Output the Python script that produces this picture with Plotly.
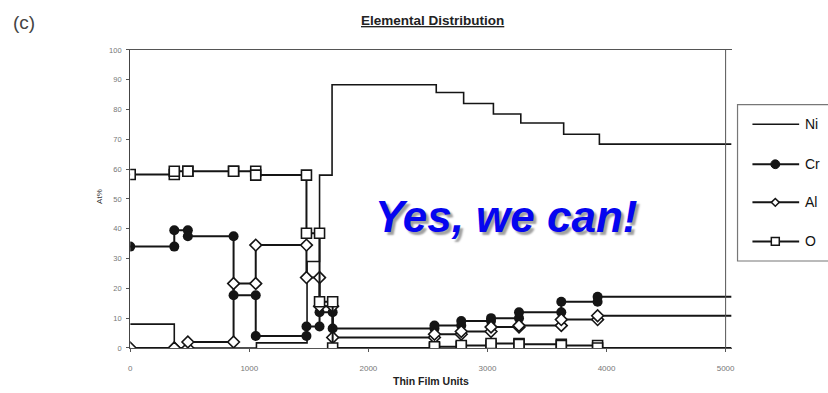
import plotly.graph_objects as go

W, H = 828, 393

# Thin-film depth profile: each layer gives a flat step, boundaries are vertical jumps
ni_x = [0, 370, 370, 1060, 1060, 1485, 1485, 1590, 1590, 1695, 1695, 2570, 2570, 2800,
        2800, 3050, 3050, 3280, 3280, 3640, 3640, 3940, 3940, 5050]
ni_y = [8, 8, 0, 0, 1.7, 1.7, 29, 29, 58, 58, 88.3, 88.3, 85.7, 85.7,
        82, 82, 78.5, 78.5, 75.5, 75.5, 71.7, 71.7, 68.4, 68.4]

layer_x = [0, 370, 370, 484, 484, 868, 868, 1054, 1054, 1480, 1480, 1590, 1590, 1700,
           1700, 2555, 2555, 2780, 2780, 3030, 3030, 3265, 3265, 3620, 3620, 3925, 3925, 5050]

cr_y = [34, 34, 39.5, 39.5, 37.5, 37.5, 17.7, 17.7, 4, 4, 7.2, 7.2, 12, 12,
        6.5, 6.5, 7.5, 7.5, 9, 9, 10, 10, 12, 12, 15.5, 15.5, 17.2, 17.2]
al_y = [0, 0, 0, 0, 2, 2, 21.6, 21.6, 34.5, 34.5, 23.6, 23.6, 14, 14,
        3.5, 3.5, 4.6, 4.6, 5.5, 5.5, 7, 7, 7.5, 7.5, 9.5, 9.5, 10.8, 10.8]
o_y = [58.2, 58.2, 59.3, 59.3, 59.3, 59.3, 59.3, 59.3, 58, 58, 38.5, 38.5, 15.5, 15.5,
       0, 0, 0.4, 0.4, 0.8, 0.8, 1.5, 1.5, 1.2, 1.2, 0.8, 0.8, 0, 0]

x_ticks = [0, 1000, 2000, 3000, 4000, 5000]
y_ticks = list(range(0, 101, 10))

legend_names = ["Ni", "Cr", "Al", "O"]

INK = "#151515"
FONT = "Liberation Sans"

# plot area in pixels
X0, X1 = 129, 734
YT, YB = 47, 352


def px(x):
    return x / W


def py(y):
    return 1 - y / H


def sizes(n, s):
    # no marker on the open-ended last point
    return [s] * (n - 1) + [0]


fig = go.Figure()

fig.add_trace(go.Scatter(x=ni_x, y=ni_y, mode="lines", name="Ni",
                         line=dict(color=INK, width=1.6), showlegend=False))
fig.add_trace(go.Scatter(x=layer_x, y=cr_y, mode="lines+markers", name="Cr",
                         line=dict(color=INK, width=2),
                         marker=dict(symbol="circle", size=sizes(len(cr_y), 10), color=INK,
                                     opacity=1, line=dict(color=INK, width=0)),
                         showlegend=False))
fig.add_trace(go.Scatter(x=layer_x, y=al_y, mode="lines+markers", name="Al",
                         line=dict(color=INK, width=2),
                         marker=dict(symbol="diamond", size=sizes(len(al_y), 9), color="white",
                                     opacity=1, line=dict(color=INK, width=1.6)),
                         showlegend=False))
fig.add_trace(go.Scatter(x=layer_x, y=o_y, mode="lines+markers", name="O",
                         line=dict(color=INK, width=2),
                         marker=dict(symbol="square", size=sizes(len(o_y), 10), color="white",
                                     opacity=1, line=dict(color=INK, width=1.6)),
                         showlegend=False))

shapes = []
# right frame edge at 5000
shapes.append(dict(type="line", xref="x", yref="y", x0=5000, x1=5000, y0=0, y1=100,
                   line=dict(color="#555", width=1)))

# hand-drawn legend box, running off the right edge
shapes.append(dict(type="rect", xref="paper", yref="paper",
                   x0=px(740), x1=px(840), y0=py(263), y1=py(103),
                   line=dict(color="#777", width=1.2), fillcolor="white"))
leg_rows = [123, 164, 203, 243]
annotations = []
for i, (name, yy) in enumerate(zip(legend_names, leg_rows)):
    shapes.append(dict(type="line", xref="paper", yref="paper",
                       x0=px(755), x1=px(802), y0=py(yy), y1=py(yy),
                       line=dict(color=INK, width=1.6 if i == 0 else 2)))
    cx = 778
    if name == "Cr":
        shapes.append(dict(type="circle", xref="paper", yref="paper",
                           x0=px(cx - 4.5), x1=px(cx + 4.5), y0=py(yy + 4.5), y1=py(yy - 4.5),
                           fillcolor=INK, line=dict(color=INK, width=1)))
    elif name == "Al":
        d = 4
        path = (f"M {px(cx - d)},{py(yy)} L {px(cx)},{py(yy - d)} "
                f"L {px(cx + d)},{py(yy)} L {px(cx)},{py(yy + d)} Z")
        shapes.append(dict(type="path", xref="paper", yref="paper", path=path,
                           fillcolor="white", line=dict(color=INK, width=1.5)))
    elif name == "O":
        shapes.append(dict(type="rect", xref="paper", yref="paper",
                           x0=px(cx - 4), x1=px(cx + 4), y0=py(yy + 4), y1=py(yy - 4),
                           fillcolor="white", line=dict(color=INK, width=1.5)))
    annotations.append(dict(text=name, xref="paper", yref="paper", x=px(806), y=py(yy),
                            xanchor="left", yanchor="middle", showarrow=False,
                            font=dict(family=FONT, size=14, color="#111")))

annotations += [
    dict(text="(c)", xref="paper", yref="paper", x=px(9), y=py(19),
         xanchor="left", yanchor="middle", showarrow=False,
         font=dict(family=FONT, size=19, color="#444")),
    dict(text="<b><u>Elemental Distribution</u></b>", xref="paper", yref="paper",
         x=px(433), y=py(17), xanchor="center", yanchor="middle", showarrow=False,
         font=dict(family=FONT, size=13.5, color="#222")),
    dict(text="At%", xref="paper", yref="paper", x=px(98), y=py(197),
         xanchor="center", yanchor="middle", showarrow=False, textangle=-90,
         font=dict(family=FONT, size=8, color="#333")),
    dict(text="<b>Thin Film Units</b>", xref="paper", yref="paper", x=px(432), y=py(386),
         xanchor="center", yanchor="middle", showarrow=False,
         font=dict(family=FONT, size=10.5, color="#222")),
    # slogan with a soft drop shadow
    dict(text="<b><i>Yes, we can!</i></b>", xref="paper", yref="paper", x=px(508), y=py(217),
         xanchor="center", yanchor="middle", showarrow=False,
         font=dict(family=FONT, size=44, color="#0505f0", shadow="3px 3px 2px #a0a0a0")),
]

fig.update_layout(
    width=W, height=H,
    margin=dict(l=0, r=0, t=0, b=0),
    paper_bgcolor="white", plot_bgcolor="white",
    shapes=shapes, annotations=annotations,
    xaxis=dict(domain=[px(X0), px(X1)], range=[0, 5050], tickvals=x_ticks,
               ticktext=[str(v) for v in x_ticks], showgrid=False, zeroline=False,
               showline=True, linecolor="#555", linewidth=1, mirror=True,
               ticks="outside", ticklen=3, tickcolor="#555", ticklabelstandoff=9,
               tickfont=dict(family=FONT, size=8, color="#777")),
    yaxis=dict(domain=[py(YB), py(YT)], range=[0, 100], tickvals=y_ticks,
               showgrid=False, zeroline=False, showline=True, linecolor="#444",
               linewidth=1.2, ticks="outside", ticklen=3, tickcolor="#555",
               ticklabelstandoff=3,
               tickfont=dict(family=FONT, size=7.5, color="#777")),
)

fig.write_html("out.html")
